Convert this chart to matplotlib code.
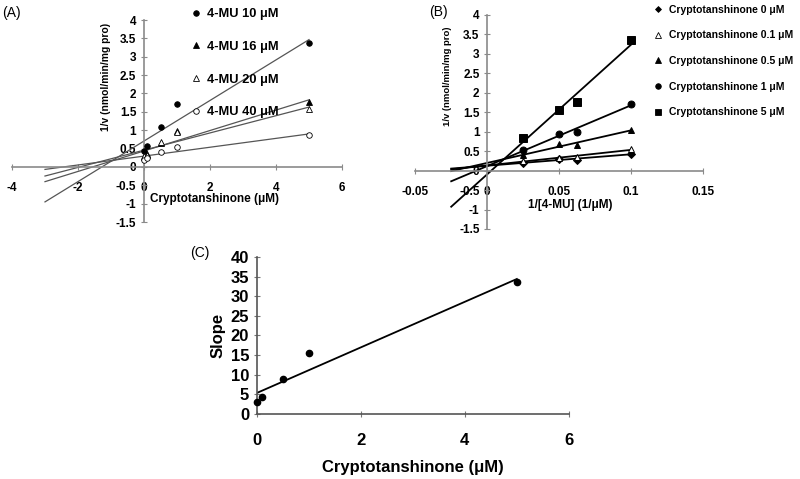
import numpy as np
import matplotlib
matplotlib.use("Agg")
import matplotlib.pyplot as plt
from matplotlib.lines import Line2D

plt.rcParams["font.family"] = ["Liberation Sans", "DejaVu Sans"]
plt.rcParams["axes.unicode_minus"] = False

# ---- panel A: 1/v vs cryptotanshinone, one series per 4-MU concentration
inhib_conc = [0, 0.1, 0.5, 1, 5]
a_labels = ["4-MU 10 μM", "4-MU 16 μM", "4-MU 20 μM", "4-MU 40 μM"]
a_mu10 = [0.43, 0.57, 1.10, 1.70, 3.37]
a_mu16 = [0.27, 0.35, 0.65, 0.97, 1.77]
a_mu20 = [0.30, 0.33, 0.68, 0.95, 1.57]
a_mu40 = [0.20, 0.25, 0.42, 0.53, 0.87]
a_fit_range = [-3, 5]

# ---- panel B: Lineweaver-Burk, one series per inhibitor concentration
inv_sub = [0.025, 0.05, 0.0625, 0.1]
b_labels = ["Cryptotanshinone 0 μM", "Cryptotanshinone 0.1 μM",
            "Cryptotanshinone 0.5 μM", "Cryptotanshinone 1 μM",
            "Cryptotanshinone 5 μM"]
b_ct0 = [0.20, 0.30, 0.27, 0.43]
b_ct01 = [0.25, 0.33, 0.35, 0.55]
b_ct05 = [0.40, 0.68, 0.65, 1.05]
b_ct1 = [0.53, 0.95, 0.98, 1.72]
b_ct5 = [0.85, 1.57, 1.77, 3.35]
b_fit_range = [-0.025, 0.1]

# ---- panel C: secondary plot of slopes
c_slope = [3.0, 4.3, 8.8, 15.5, 33.5]
c_fit_range = [0, 5]

AXIS_GRAY = "#8a8a8a"
BOLD = dict(fontweight="bold")


def zero_axes(ax):
    ax.patch.set_visible(False)
    for side in ("top", "right"):
        ax.spines[side].set_visible(False)
    ax.spines["left"].set_position(("data", 0))
    ax.spines["bottom"].set_position(("data", 0))
    for side in ("left", "bottom"):
        ax.spines[side].set_color(AXIS_GRAY)
        ax.spines[side].set_linewidth(1.2)
    ax.tick_params(direction="inout", length=4, width=0.8, color=AXIS_GRAY,
                   labelsize=8.5)
    for lab in ax.get_xticklabels() + ax.get_yticklabels():
        lab.set_fontweight("bold")


def fit_line(ax, x, y, xr, **kw):
    m, b = np.polyfit(x, y, 1)
    xs = np.array(xr)
    ax.plot(xs, m * xs + b, **kw)


fig = plt.figure(figsize=(8, 4.79), dpi=100)

# ---------------- A
ax = fig.add_axes([0.015, 0.5365, 0.4125, 0.4217])
a_series = [a_mu10, a_mu16, a_mu20, a_mu40]
a_markers = [("o", "black"), ("^", "black"), ("^", "white"), ("o", "white")]
handles = []
for ys, (mk, fc), lab in zip(a_series, a_markers, a_labels):
    fit_line(ax, inhib_conc, ys, a_fit_range, color="#555555", lw=0.9, zorder=2)
    ax.plot(inhib_conc, ys, ls="none", marker=mk, ms=4, mfc=fc, mec="black",
            mew=0.6, zorder=3)
    handles.append(Line2D([], [], ls="none", marker=mk, ms=4, mfc=fc,
                          mec="black", mew=0.6, label=lab))
ax.set_xlim(-4, 6)
ax.set_ylim(-1.5, 4)
ax.set_xticks([-4, -2, 0, 2, 4, 6])
ax.set_yticks(np.arange(-1.5, 4.01, 0.5))
ax.set_yticklabels([f"{v:g}" for v in np.arange(-1.5, 4.01, 0.5)])
zero_axes(ax)
ax.xaxis.set_tick_params(pad=9)
ax.set_ylabel("1/v (nmol/min/mg pro)", fontsize=7.4, **BOLD)
ax.yaxis.set_label_coords(0.3, 0.72)
ax.text(0.615, 0.112, "Cryptotanshinone (μM)", transform=ax.transAxes,
        ha="center", va="center", fontsize=8.5, **BOLD)
fig.legend(handles=handles, loc="upper left", bbox_to_anchor=(0.2405, 0.983),
           frameon=False, prop=dict(size=9.3, weight="bold"), handlelength=0.6,
           handletextpad=0.5, labelspacing=1.6, borderaxespad=0,
           borderpad=0)
fig.text(0.003, 0.972, "(A)", fontsize=10, va="center")

# ---------------- B
ax = fig.add_axes([0.519, 0.522, 0.36, 0.4468])
b_series = [b_ct0, b_ct01, b_ct05, b_ct1, b_ct5]
b_markers = [("D", "black", 4), ("^", "white", 5), ("^", "black", 5),
             ("o", "black", 5), ("s", "black", 5.5)]
handles = []
for ys, (mk, fc, ms), lab in zip(b_series, b_markers, b_labels):
    fit_line(ax, inv_sub, ys, b_fit_range, color="black", lw=1.3, zorder=2)
    ax.plot(inv_sub, ys, ls="none", marker=mk, ms=ms, mfc=fc, mec="black",
            mew=0.7, zorder=3)
    handles.append(Line2D([], [], ls="none", marker=mk, ms=ms - 1, mfc=fc,
                          mec="black", mew=0.6, label=lab))
ax.set_xlim(-0.05, 0.15)
ax.set_ylim(-1.5, 4)
ax.set_xticks([-0.05, 0, 0.05, 0.1, 0.15])
ax.set_xticklabels(["-0.05", "0", "0.05", "0.1", "0.15"])
ax.set_yticks(np.arange(-1.5, 4.01, 0.5))
ax.set_yticklabels([f"{v:g}" for v in np.arange(-1.5, 4.01, 0.5)])
zero_axes(ax)
ax.xaxis.set_tick_params(pad=9)
ax.set_ylabel("1/v (nmol/min/mg pro)", fontsize=6.8, **BOLD)
ax.yaxis.set_label_coords(0.128, 0.715)
ax.text(0.54, 0.112, "1/[4-MU] (1/μM)", transform=ax.transAxes,
        ha="center", va="center", fontsize=8.5, **BOLD)
fig.legend(handles=handles, loc="upper left", bbox_to_anchor=(0.819, 0.99),
           frameon=False, prop=dict(size=7.5, weight="bold"), handlelength=0.6,
           handletextpad=0.7, labelspacing=1.5, borderaxespad=0,
           borderpad=0)
fig.text(0.537, 0.975, "(B)", fontsize=10, va="center")

# ---------------- C
ax = fig.add_axes([0.321, 0.1357, 0.39, 0.3278])
ax.patch.set_visible(False)
fit_line(ax, inhib_conc, c_slope, c_fit_range, color="black", lw=1.3, zorder=2)
ax.plot(inhib_conc, c_slope, ls="none", marker="o", ms=4.5, color="black",
        zorder=3, clip_on=False)
ax.set_xlim(0, 6)
ax.set_ylim(0, 40)
ax.set_xticks([0, 2, 4, 6])
ax.set_yticks(range(0, 41, 5))
for side in ("top", "right"):
    ax.spines[side].set_visible(False)
for side in ("left", "bottom"):
    ax.spines[side].set_color("#555555")
    ax.spines[side].set_linewidth(1.2)
ax.tick_params(direction="inout", length=4, width=0.8, color="#777777",
               labelsize=12)
ax.tick_params(axis="x", pad=12)
for lab in ax.get_xticklabels() + ax.get_yticklabels():
    lab.set_fontweight("bold")
ax.set_ylabel("Slope", fontsize=12, labelpad=4, **BOLD)
ax.set_xlabel("Cryptotanshinone (μM)", fontsize=12, labelpad=8, **BOLD)
fig.text(0.238, 0.472, "(C)", fontsize=10, va="center")

fig.savefig("out.png", dpi=100)
